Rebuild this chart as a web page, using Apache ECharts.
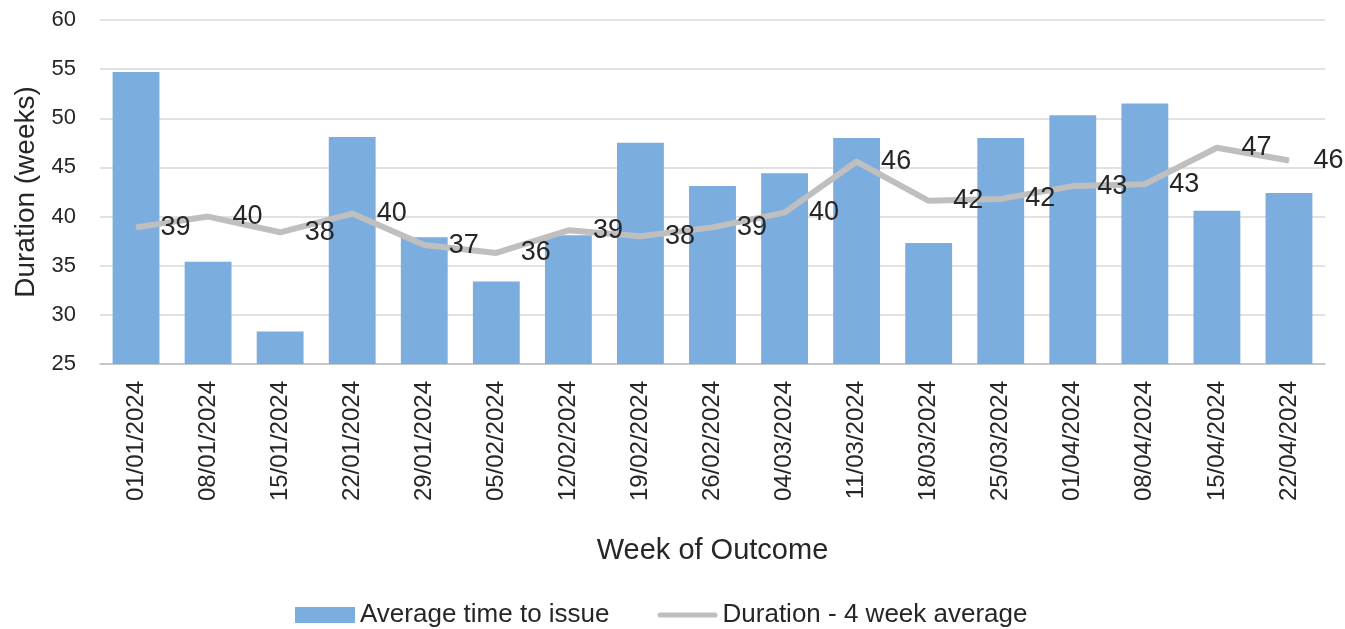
<!DOCTYPE html>
<html>
<head>
<meta charset="utf-8">
<script src="https://cdn.jsdelivr.net/npm/echarts@6/dist/echarts.min.js"></script>
<style>
  html,body{margin:0;padding:0;background:#fff;}
  #chart{width:1345px;height:629px;}
</style>
</head>
<body>
<div id="chart"></div>
<script>
// weeks
var weeks = ['01/01/2024','08/01/2024','15/01/2024','22/01/2024','29/01/2024','05/02/2024','12/02/2024','19/02/2024','26/02/2024','04/03/2024','11/03/2024','18/03/2024','25/03/2024','01/04/2024','08/04/2024','15/04/2024','22/04/2024']
// bars
var avgTimeToIssue = [54.7, 35.4, 28.3, 48.1, 37.9, 33.4, 38.1, 47.5, 43.1, 44.4, 48.0, 37.3, 48.0, 50.3, 51.5, 40.6, 42.4]
// line
var fourWeekAvg = [38.9, 40.0, 38.4, 40.3, 37.1, 36.3, 38.6, 38.0, 38.9, 40.4, 45.6, 41.6, 41.8, 43.1, 43.3, 47.0, 45.7]

var font = '"Liberation Sans", Arial, sans-serif'
var myChart = echarts.init(document.getElementById('chart'))
var option = {
  animation:false,
  textStyle:{fontFamily:font},
  grid:{left:100, right:20, top:20, bottom:265, outerBoundsMode:'none'},
  legend:{
    top:597,
    left:290,
    itemGap:48,
    itemWidth:60,
    itemHeight:16,
    itemTextGap:8,
    textStyle:{fontSize:26, color:'#262626', fontFamily:font},
    data:[
      {name:'Average time to issue', icon:'rect'},
      {name:'Duration - 4 week average', icon:'path://M3,0 L67,0 A3,3 0 0 1 67,6 L3,6 A3,3 0 0 1 3,0 Z', itemStyle:{color:'#bfbfbf'}}
    ]
  },
  xAxis:{
    type:'category',
    data:weeks,
    name:'Week of Outcome',
    nameLocation:'middle',
    nameGap:172,
    nameTextStyle:{fontSize:29, color:'#262626'},
    axisLine:{lineStyle:{color:'#bfbfbf', width:1.5}},
    axisTick:{lineStyle:{color:'#bfbfbf', width:1.5}, length:8},
    axisLabel:{rotate:90, fontSize:24, color:'#262626', margin:17}
  },
  yAxis:{
    type:'value',
    min:25,
    max:60,
    interval:5,
    name:'Duration (weeks)',
    nameLocation:'middle',
    nameGap:60,
    nameTextStyle:{fontSize:28, color:'#262626'},
    axisLine:{show:false},
    axisTick:{show:false},
    axisLabel:{fontSize:22, color:'#262626', margin:24},
    splitLine:{lineStyle:{color:'#d9d9d9', width:1.5}}
  },
  series:[
    {
      name:'Average time to issue',
      type:'bar',
      data:avgTimeToIssue,
      barCategoryGap:'35%',
      itemStyle:{color:'#7badde'}
    },
    {
      name:'Duration - 4 week average',
      type:'line',
      data:fourWeekAvg,
      symbol:'circle',
      symbolSize:1,
      lineStyle:{color:'#bfbfbf', width:6},
      itemStyle:{color:'#bfbfbf'},
      label:{
        show:true,
        position:'right',
        distance:24,
        fontSize:27,
        color:'#262626',
        formatter:function(p){ return Math.round(p.value) }
      }
    }
  ]
}
option && myChart.setOption(option)
</script>
</body>
</html>
